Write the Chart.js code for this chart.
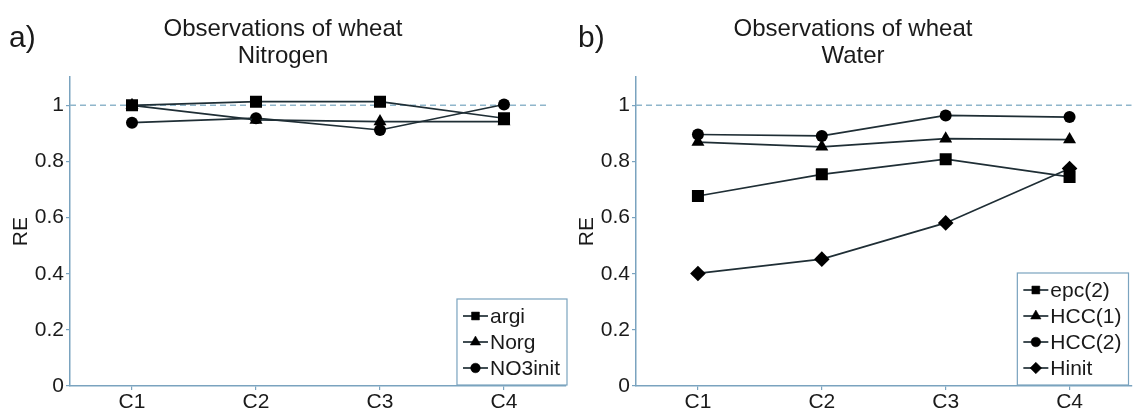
<!DOCTYPE html>
<html><head><meta charset="utf-8">
<script src="https://cdn.jsdelivr.net/npm/chart.js@4.4.1/dist/chart.umd.min.js"></script>
<style>
html,body{margin:0;padding:0;background:#fff;width:1134px;height:414px;overflow:hidden;position:relative;font-family:"Liberation Sans",Arial,sans-serif}
.box{position:absolute;top:0;height:414px}
#wa{left:0;width:575px}
#wb{left:566px;width:574px}
.lab{position:absolute;font-size:30px;color:#1a1a1a;line-height:1}
</style></head><body>
<div class="box" id="wa"><canvas id="ca"></canvas></div>
<div class="box" id="wb"><canvas id="cb"></canvas></div>
<div class="lab" style="left:9px;top:22px">a)</div>
<div class="lab" style="left:578px;top:22px">b)</div>
<script>
// ---- data ----
const categories = ['C1', 'C2', 'C3', 'C4'];
const yTicks = [0, 0.2, 0.4, 0.6, 0.8, 1];

const titleA = ['Observations of wheat', 'Nitrogen'];
const labelsA = ['argi', 'Norg', 'NO3init'];
const argi    = [1.000, 1.013, 1.013, 0.954];
const norg    = [1.000, 0.948, 0.942, 0.942];
const no3init = [0.938, 0.954, 0.912, 1.003];

const titleB = ['Observations of wheat', 'Water'];
const labelsB = ['epc(2)', 'HCC(1)', 'HCC(2)', 'Hinit'];
const epc2  = [0.677, 0.754, 0.808, 0.745];
const hcc1  = [0.869, 0.852, 0.881, 0.878];
const hcc2  = [0.896, 0.891, 0.964, 0.958];
const hinit = [0.401, 0.452, 0.581, 0.775];

const refValue = 1;
// ---- styles ----
const AXIS = '#7aa3bf';
const REF = '#8fb6cb';
const LINE = '#1f2e35';
const TXT = '#1a1a1a';
const FONT = '"Liberation Sans", Arial, sans-serif';
const MARK = {
  rect: {style: 'rect', r: 8.5, lr: 5.6},
  triangle: {style: 'triangle', r: 7.5, lr: 6},
  circle: {style: 'circle', r: 6, lr: 4.8},
  rectRot: {style: 'rectRot', r: 7.8, lr: 5.8}
};

function ds(label, values, m) {
  return {
    label,
    data: values.map((v, i) => ({x: i + 1, y: v})),
    borderColor: LINE, borderWidth: 1.7,
    pointStyle: m.style, pointRadius: m.r, pointHoverRadius: m.r,
    pointBackgroundColor: '#000', pointBorderColor: '#000', pointBorderWidth: 0,
    legendRadius: m.lr, tension: 0, fill: false
  };
}

const refLinePlugin = {
  id: 'refLine',
  beforeDatasetsDraw(chart, args, opts) {
    const {ctx, scales: {x, y}} = chart;
    const py = y.getPixelForValue(opts.value);
    ctx.save();
    ctx.strokeStyle = REF; ctx.lineWidth = 1.5; ctx.setLineDash([6, 4]);
    ctx.beginPath();
    ctx.moveTo(x.getPixelForValue(opts.from), py);
    ctx.lineTo(x.getPixelForValue(opts.to), py);
    ctx.stroke();
    ctx.restore();
  }
};

const boxLegendPlugin = {
  id: 'boxLegend',
  afterDraw(chart, args, opts) {
    const {ctx, chartArea} = chart;
    const sets = chart.data.datasets;
    ctx.save();
    ctx.font = '21px ' + FONT;
    let maxW = 0;
    sets.forEach(d => { maxW = Math.max(maxW, ctx.measureText(d.label).width); });
    const rowH = opts.rowH;
    const w = 33 + maxW + 7;
    const h = sets.length * rowH + 8;
    const bx = chartArea.right + opts.dx - w;
    const by = chartArea.bottom - 1 - h;
    ctx.fillStyle = '#fff';
    ctx.fillRect(bx, by, w, h);
    ctx.strokeStyle = AXIS; ctx.lineWidth = 1.2;
    ctx.strokeRect(bx, by, w, h);
    sets.forEach((d, i) => {
      const cy = by + 17 + i * rowH;
      ctx.strokeStyle = LINE; ctx.lineWidth = 1.7;
      ctx.beginPath(); ctx.moveTo(bx + 6, cy); ctx.lineTo(bx + 31, cy); ctx.stroke();
      ctx.fillStyle = '#000'; ctx.strokeStyle = '#000'; ctx.lineWidth = 0.5;
      Chart.helpers.drawPoint(ctx, {pointStyle: d.pointStyle, radius: d.legendRadius, rotation: 0, borderWidth: 0.5}, bx + 18.5, cy);
      ctx.fillStyle = TXT; ctx.textBaseline = 'middle'; ctx.textAlign = 'left';
      ctx.fillText(d.label, bx + 33, cy + 1);
    });
    ctx.restore();
  }
};

function makeChart(id, title, datasets, refTo, padRight, legendDx) {
  return new Chart(document.getElementById(id), {
    type: 'line',
    data: {datasets},
    plugins: [refLinePlugin, boxLegendPlugin],
    options: {
      responsive: true, maintainAspectRatio: false, animation: false,
      layout: {padding: {left: 0, right: padRight, top: 0, bottom: 0}},
      plugins: {
        legend: {display: false}, tooltip: {enabled: false},
        title: {display: true, text: title, color: TXT,
          font: {family: FONT, size: 24, weight: 'normal', lineHeight: 1.13},
          padding: {top: 16, bottom: 7}},
        refLine: {value: refValue, from: 0.5, to: refTo},
        boxLegend: {rowH: 26, dx: legendDx}
      },
      scales: {
        x: {
          type: 'linear', min: 0.5, max: 4.5,
          afterBuildTicks: s => { s.ticks = categories.map((c, i) => ({value: i + 1})); },
          afterFit: s => { s.height = 28; },
          ticks: {callback: v => categories[v - 1], color: TXT, padding: 0,
            font: {family: FONT, size: 21}, maxRotation: 0, autoSkip: false},
          grid: {display: true, drawOnChartArea: false, drawTicks: true, tickLength: 4, color: AXIS, lineWidth: 1.2},
          border: {display: true, color: AXIS, width: 1.5}
        },
        y: {
          min: 0, max: 1.1,
          afterBuildTicks: s => { s.ticks = yTicks.map(v => ({value: v})); },
          afterFit: s => { s.width = 70; },
          ticks: {callback: v => String(+v.toFixed(1)), color: TXT, padding: 2,
            font: {family: FONT, size: 21}},
          grid: {display: true, drawOnChartArea: false, drawTicks: true, tickLength: 4, color: AXIS, lineWidth: 1.2},
          border: {display: true, color: AXIS, width: 1.5},
          title: {display: true, text: 'RE', color: TXT, font: {family: FONT, size: 21}, padding: {top: 9, bottom: 0}}
        }
      }
    }
  });
}

makeChart('ca', titleA, [
  ds(labelsA[0], argi, MARK.rect),
  ds(labelsA[1], norg, MARK.triangle),
  ds(labelsA[2], no3init, MARK.circle)
], 4.37, 9, 1);

makeChart('cb', titleB, [
  ds(labelsB[0], epc2, MARK.rect),
  ds(labelsB[1], hcc1, MARK.triangle),
  ds(labelsB[2], hcc2, MARK.circle),
  ds(labelsB[3], hinit, MARK.rectRot)
], 4.5, 0, -3);
</script>
</body></html>
